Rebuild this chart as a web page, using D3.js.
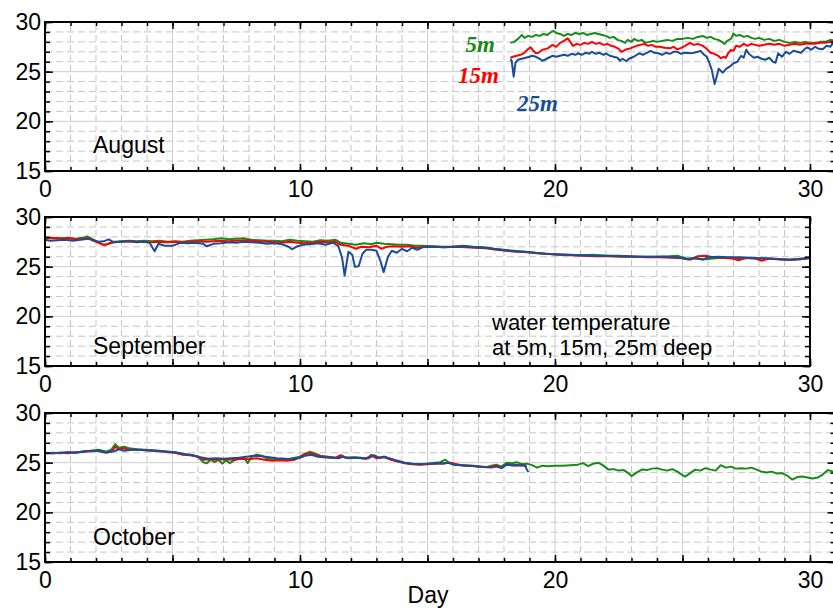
<!DOCTYPE html>
<html>
<head>
<meta charset="utf-8">
<script src="https://cdn.jsdelivr.net/npm/d3@7"></script>
<style>
  body { margin: 0; overflow: hidden; background: #fff; }
  svg { display: block; font-family: "Liberation Sans", Arial, sans-serif; }
</style>
</head>
<body>
<svg id="chart" width="833" height="610"></svg>
<script>
// [day, temperature]
var aug5 = [[18.25,27.9],[18.4,28.0],[18.55,28.3],[18.7,28.7],[18.8,28.4],[18.95,28.6],[19.1,28.5],[19.25,28.7],[19.4,28.6],[19.55,28.8],[19.7,28.7],[19.85,29.0],[19.95,29.1],[20.05,28.9],[20.2,28.8],[20.35,28.6],[20.5,28.8],[20.65,28.7],[20.8,28.9],[20.95,28.8],[21.1,28.9],[21.25,28.7],[21.4,28.8],[21.55,28.9],[21.7,28.8],[21.85,28.7],[22.0,28.6],[22.15,28.4],[22.3,28.5],[22.45,28.2],[22.6,28.1],[22.75,27.9],[22.85,28.2],[23.0,28.0],[23.1,28.3],[23.25,28.1],[23.4,28.2],[23.55,27.9],[23.7,28.0],[23.85,28.1],[24.0,28.0],[24.2,28.1],[24.4,28.2],[24.6,28.1],[24.8,28.3],[25.0,28.3],[25.2,28.4],[25.4,28.3],[25.6,28.5],[25.8,28.6],[25.95,28.4],[26.1,28.5],[26.25,28.3],[26.4,28.2],[26.55,28.0],[26.65,27.8],[26.75,28.1],[26.9,28.3],[27.0,28.85],[27.1,28.6],[27.25,28.7],[27.4,28.5],[27.55,28.6],[27.7,28.4],[27.85,28.3],[28.0,28.4],[28.2,28.2],[28.4,28.3],[28.6,28.1],[28.8,28.2],[29.0,28.0],[29.2,27.9],[29.4,28.0],[29.6,27.9],[29.8,28.0],[30.0,27.9],[30.2,27.9],[30.4,28.0],[30.6,28.0],[30.8,28.2],[31.0,28.1]];
var aug15 = [[18.25,26.4],[18.35,26.5],[18.5,26.6],[18.65,26.7],[18.8,26.9],[18.95,27.3],[19.05,27.45],[19.15,27.1],[19.25,26.85],[19.35,26.9],[19.5,27.2],[19.6,27.25],[19.75,27.4],[19.9,27.7],[20.05,27.5],[20.2,27.9],[20.35,28.1],[20.5,28.35],[20.6,28.0],[20.7,27.6],[20.85,27.8],[21.0,27.7],[21.15,27.9],[21.3,27.8],[21.45,28.0],[21.6,27.8],[21.75,27.9],[21.9,27.7],[22.05,27.8],[22.2,27.6],[22.35,27.5],[22.5,27.3],[22.6,27.0],[22.75,27.2],[22.9,27.3],[23.05,27.45],[23.2,27.6],[23.35,27.7],[23.5,27.8],[23.65,27.6],[23.8,27.7],[23.95,27.5],[24.1,27.5],[24.3,27.4],[24.5,27.35],[24.65,27.5],[24.8,27.25],[24.95,27.4],[25.1,27.6],[25.3,27.9],[25.45,27.7],[25.6,27.8],[25.8,27.6],[25.95,27.3],[26.1,26.9],[26.25,26.8],[26.4,26.6],[26.5,26.35],[26.6,26.5],[26.7,26.4],[26.8,26.9],[26.9,27.2],[27.0,27.1],[27.1,27.6],[27.25,27.5],[27.4,27.8],[27.55,27.6],[27.7,27.8],[27.85,27.7],[28.0,27.6],[28.2,27.7],[28.4,27.8],[28.6,27.7],[28.8,27.8],[29.0,27.6],[29.2,27.7],[29.4,27.8],[29.6,27.7],[29.8,27.8],[30.0,27.8],[30.2,27.8],[30.4,27.9],[30.6,27.9],[30.8,28.0],[31.0,28.1]];
var aug25 = [[18.25,26.25],[18.3,26.1],[18.38,24.5],[18.45,25.9],[18.55,26.2],[18.7,26.3],[18.85,26.4],[19.0,26.5],[19.1,26.6],[19.25,26.5],[19.4,26.3],[19.5,26.1],[19.6,26.2],[19.75,26.4],[19.9,26.6],[20.05,26.5],[20.2,26.6],[20.35,26.7],[20.5,26.6],[20.65,26.8],[20.8,26.7],[20.9,26.85],[21.05,26.7],[21.2,26.9],[21.35,26.8],[21.45,27.0],[21.6,26.8],[21.75,26.9],[21.9,26.7],[22.0,26.85],[22.15,26.6],[22.3,26.5],[22.45,26.4],[22.55,26.1],[22.65,26.3],[22.8,26.05],[22.9,26.3],[23.0,26.4],[23.15,26.6],[23.3,26.85],[23.45,26.7],[23.6,26.9],[23.75,27.1],[23.9,26.9],[24.05,26.85],[24.2,26.7],[24.35,26.9],[24.5,26.8],[24.65,27.0],[24.8,27.0],[24.95,26.8],[25.1,26.9],[25.3,26.85],[25.45,26.9],[25.6,27.0],[25.7,27.1],[25.85,26.7],[25.95,26.5],[26.05,25.9],[26.15,25.15],[26.26,23.75],[26.35,24.6],[26.42,25.3],[26.5,25.1],[26.57,24.9],[26.65,25.1],[26.72,25.3],[26.85,25.5],[27.0,25.85],[27.15,26.0],[27.3,26.6],[27.4,26.4],[27.5,27.2],[27.6,26.8],[27.7,26.6],[27.8,26.4],[27.95,26.5],[28.1,26.3],[28.25,26.2],[28.4,26.4],[28.55,26.0],[28.65,25.9],[28.75,26.85],[28.9,26.5],[29.05,27.0],[29.2,26.8],[29.35,27.1],[29.5,27.0],[29.65,26.9],[29.8,27.3],[29.9,27.45],[30.05,27.2],[30.2,27.5],[30.35,27.3],[30.5,27.25],[30.65,27.6],[30.8,27.5],[30.9,27.9],[31.0,27.8]];

var sep5 = [[0,27.85],[0.3,27.9],[0.6,27.85],[0.9,27.9],[1.2,27.8],[1.5,27.9],[1.65,28.05],[1.8,27.85],[2.0,27.6],[2.2,27.3],[2.35,27.15],[2.5,27.35],[2.7,27.5],[3.0,27.55],[3.3,27.6],[3.6,27.55],[3.9,27.6],[4.2,27.55],[4.5,27.6],[4.8,27.5],[5.1,27.55],[5.4,27.5],[5.7,27.6],[6.0,27.65],[6.3,27.7],[6.6,27.75],[6.9,27.85],[7.2,27.75],[7.5,27.8],[7.8,27.85],[8.1,27.7],[8.4,27.65],[8.7,27.6],[9.0,27.6],[9.3,27.55],[9.6,27.7],[9.9,27.6],[10.2,27.55],[10.5,27.5],[10.8,27.65],[11.1,27.6],[11.4,27.7],[11.6,27.4],[11.9,27.3],[12.2,27.2],[12.5,27.35],[12.8,27.25],[13.0,27.4],[13.3,27.3],[13.6,27.25],[13.9,27.2],[14.2,27.2],[14.5,27.1],[14.8,27.1],[15.2,27.05],[15.6,27.0],[16.0,27.0],[16.4,27.1],[16.8,27.0],[17.2,26.95],[17.6,26.8],[18.0,26.7],[18.4,26.6],[18.8,26.5],[19.2,26.4],[19.6,26.3],[20.0,26.25],[20.5,26.2],[21.0,26.15],[21.5,26.2],[22.0,26.1],[22.5,26.1],[23.0,26.05],[23.5,26.0],[24.0,26.0],[24.5,26.05],[24.8,26.1],[25.1,25.85],[25.5,25.8],[25.9,25.75],[26.3,25.85],[26.8,25.9],[27.3,25.85],[27.8,25.85],[28.3,25.8],[28.8,25.75],[29.2,25.7],[29.6,25.8],[30.0,25.9]];
var sep15 = [[0,27.9],[0.3,27.85],[0.6,27.8],[0.9,27.85],[1.2,27.75],[1.5,27.8],[1.7,27.9],[1.9,27.6],[2.1,27.4],[2.3,27.2],[2.5,27.3],[2.7,27.45],[3.0,27.5],[3.3,27.55],[3.6,27.5],[3.9,27.5],[4.2,27.45],[4.5,27.5],[4.8,27.45],[5.1,27.5],[5.4,27.45],[5.7,27.5],[6.0,27.55],[6.3,27.5],[6.6,27.55],[6.9,27.6],[7.2,27.55],[7.5,27.6],[7.8,27.65],[8.1,27.6],[8.4,27.55],[8.7,27.5],[9.0,27.45],[9.3,27.4],[9.6,27.5],[9.9,27.4],[10.2,27.35],[10.5,27.4],[10.8,27.5],[11.1,27.45],[11.4,27.5],[11.6,27.2],[11.9,27.1],[12.2,26.8],[12.4,27.0],[12.7,26.95],[13.0,27.1],[13.2,26.8],[13.4,27.0],[13.7,27.05],[14.0,27.0],[14.3,27.05],[14.6,26.9],[14.9,27.0],[15.3,27.0],[15.7,26.95],[16.1,27.0],[16.5,26.95],[16.9,26.9],[17.3,26.85],[17.7,26.7],[18.1,26.6],[18.5,26.5],[18.9,26.45],[19.3,26.35],[19.7,26.3],[20.1,26.2],[20.6,26.15],[21.1,26.1],[21.6,26.05],[22.1,26.05],[22.6,26.0],[23.1,26.0],[23.6,25.95],[24.1,25.95],[24.6,25.9],[25.0,25.85],[25.3,25.7],[25.6,26.05],[25.9,26.1],[26.2,25.95],[26.6,25.9],[27.0,25.8],[27.2,25.65],[27.5,25.9],[27.9,25.8],[28.1,25.6],[28.4,25.8],[28.8,25.75],[29.2,25.7],[29.6,25.75],[30.0,25.85]];
var sep25 = [[0,27.7],[0.2,27.6],[0.5,27.65],[0.8,27.7],[1.1,27.6],[1.4,27.7],[1.7,27.8],[1.9,27.65],[2.1,27.5],[2.3,27.55],[2.5,27.75],[2.7,27.45],[3.0,27.5],[3.3,27.55],[3.6,27.45],[3.9,27.5],[4.1,27.4],[4.3,26.55],[4.45,27.3],[4.7,27.1],[5.0,27.1],[5.3,27.4],[5.6,27.35],[5.9,27.4],[6.2,27.3],[6.35,27.05],[6.6,27.3],[6.9,27.35],[7.2,27.45],[7.5,27.4],[7.8,27.5],[8.1,27.45],[8.4,27.4],[8.7,27.3],[9.0,27.35],[9.3,27.25],[9.55,27.0],[9.7,26.75],[9.85,27.0],[10.1,27.2],[10.4,27.25],[10.7,27.35],[11.0,27.2],[11.3,27.4],[11.5,27.1],[11.65,25.9],[11.75,24.1],[11.9,26.5],[12.05,26.2],[12.15,25.0],[12.3,25.05],[12.45,26.3],[12.6,26.7],[12.8,26.7],[13.0,26.6],[13.15,25.6],[13.28,24.45],[13.45,26.0],[13.6,26.6],[13.8,26.4],[14.0,26.8],[14.2,26.55],[14.4,26.9],[14.6,26.7],[14.8,26.95],[15.2,27.0],[15.6,26.95],[16.0,27.0],[16.4,27.05],[16.8,26.95],[17.2,26.9],[17.6,26.8],[18.0,26.65],[18.4,26.55],[18.8,26.5],[19.2,26.4],[19.6,26.3],[20.0,26.25],[20.5,26.2],[21.0,26.15],[21.5,26.1],[22.0,26.1],[22.5,26.05],[23.0,26.0],[23.5,26.0],[24.0,26.0],[24.5,26.0],[24.9,25.9],[25.2,25.75],[25.5,25.9],[25.8,25.7],[26.0,25.95],[26.4,26.0],[26.8,25.95],[27.2,25.95],[27.6,25.9],[28.0,25.85],[28.4,25.85],[28.8,25.75],[29.2,25.7],[29.6,25.75],[30.0,25.9]];

var oct5 = [[0,25.95],[0.3,26.0],[0.6,25.95],[0.9,26.05],[1.2,26.0],[1.5,26.15],[1.8,26.2],[2.1,26.3],[2.4,26.1],[2.6,26.3],[2.75,26.85],[2.9,26.5],[3.1,26.6],[3.3,26.45],[3.6,26.35],[3.9,26.3],[4.2,26.25],[4.5,26.2],[4.8,26.1],[5.1,26.05],[5.4,25.85],[5.7,25.8],[6.0,25.6],[6.2,25.05],[6.35,24.95],[6.5,25.3],[6.65,25.05],[6.8,25.3],[6.95,24.9],[7.1,25.25],[7.25,24.95],[7.4,25.2],[7.6,25.4],[7.8,25.5],[7.95,24.95],[8.1,25.6],[8.3,25.8],[8.5,25.7],[8.7,25.4],[8.9,25.35],[9.1,25.3],[9.3,25.4],[9.5,25.35],[9.8,25.5],[10.0,25.6],[10.2,25.9],[10.4,26.1],[10.6,25.9],[10.8,25.7],[11.1,25.6],[11.4,25.5],[11.6,25.7],[11.8,25.5],[12.1,25.55],[12.4,25.5],[12.6,25.4],[12.8,25.8],[13.0,25.45],[13.3,25.6],[13.5,25.4],[13.8,25.2],[14.1,25.0],[14.4,24.9],[14.7,24.85],[15.0,24.9],[15.3,25.0],[15.5,25.05],[15.7,25.3],[15.85,25.0],[16.1,24.85],[16.4,24.75],[16.7,24.7],[17.0,24.6],[17.3,24.55],[17.5,24.7],[17.7,24.8],[17.9,24.6],[18.1,25.0],[18.3,24.95],[18.5,25.05],[18.7,24.85],[18.9,24.9],[19.1,24.75],[19.3,24.5],[19.5,24.7],[19.7,24.65],[20.0,24.7],[20.3,24.7],[20.6,24.75],[20.9,24.8],[21.1,24.95],[21.3,24.65],[21.5,24.9],[21.7,25.0],[21.9,24.7],[22.1,24.3],[22.3,24.35],[22.5,24.2],[22.7,24.25],[22.9,23.9],[23.0,23.65],[23.2,24.0],[23.4,24.3],[23.6,24.25],[23.8,24.4],[24.0,24.45],[24.2,24.3],[24.4,24.2],[24.6,24.35],[24.8,24.1],[25.0,23.75],[25.1,23.6],[25.3,23.95],[25.5,24.3],[25.7,24.2],[25.9,24.45],[26.1,24.3],[26.3,24.2],[26.5,24.75],[26.7,24.5],[26.9,24.6],[27.1,24.4],[27.3,24.45],[27.5,24.4],[27.7,24.5],[27.9,24.3],[28.1,24.1],[28.3,24.0],[28.5,24.1],[28.7,23.9],[28.9,23.95],[29.1,23.7],[29.3,23.3],[29.5,23.55],[29.7,23.6],[29.9,23.5],[30.1,23.4],[30.3,23.5],[30.5,23.8],[30.7,24.25],[30.9,24.1],[31.0,24.1]];
var oct15 = [[0,25.95],[0.3,25.95],[0.6,26.0],[0.9,25.95],[1.2,26.05],[1.5,26.1],[1.8,26.2],[2.1,26.15],[2.4,26.0],[2.6,26.1],[2.75,26.6],[2.9,26.35],[3.1,26.45],[3.3,26.3],[3.6,26.3],[3.9,26.25],[4.2,26.2],[4.5,26.15],[4.8,26.05],[5.1,26.0],[5.4,25.8],[5.7,25.75],[6.0,25.6],[6.2,25.3],[6.5,25.35],[6.8,25.3],[7.1,25.35],[7.4,25.3],[7.7,25.4],[8.0,25.35],[8.3,25.45],[8.6,25.3],[8.9,25.2],[9.2,25.25],[9.5,25.2],[9.8,25.3],[10.0,25.55],[10.2,25.85],[10.4,25.95],[10.6,25.8],[10.8,25.65],[11.1,25.55],[11.4,25.5],[11.6,25.75],[11.8,25.5],[12.1,25.5],[12.4,25.45],[12.6,25.4],[12.8,25.7],[13.0,25.45],[13.3,25.55],[13.5,25.35],[13.8,25.15],[14.1,24.95],[14.4,24.85],[14.7,24.8],[15.0,24.85],[15.3,24.9],[15.6,24.95],[15.9,25.0],[16.2,24.8],[16.5,24.7],[16.8,24.7],[17.1,24.6],[17.4,24.55],[17.7,24.7],[17.9,24.5],[18.1,24.8],[18.4,24.7],[18.7,24.75],[18.9,24.6]];
var oct25 = [[0,26.0],[0.3,25.95],[0.6,26.0],[0.9,26.05],[1.2,26.0],[1.5,26.1],[1.8,26.15],[2.1,26.2],[2.4,26.05],[2.7,26.15],[2.9,26.35],[3.1,26.2],[3.4,26.3],[3.7,26.3],[4.0,26.25],[4.3,26.2],[4.6,26.15],[4.9,26.1],[5.2,26.0],[5.5,25.85],[5.8,25.75],[6.1,25.55],[6.4,25.4],[6.7,25.45],[7.0,25.4],[7.3,25.45],[7.6,25.5],[7.9,25.6],[8.2,25.7],[8.5,25.65],[8.8,25.55],[9.1,25.45],[9.4,25.4],[9.7,25.35],[10.0,25.5],[10.2,25.7],[10.45,25.8],[10.7,25.6],[10.9,25.55],[11.2,25.5],[11.5,25.45],[11.7,25.6],[11.9,25.45],[12.2,25.5],[12.5,25.45],[12.7,25.45],[12.9,25.75],[13.1,25.5],[13.3,25.6],[13.5,25.45],[13.8,25.2],[14.1,25.0],[14.4,24.9],[14.7,24.85],[15.0,24.9],[15.3,24.95],[15.6,24.9],[15.8,25.0],[16.0,24.8],[16.3,24.75],[16.6,24.7],[16.9,24.65],[17.2,24.6],[17.5,24.5],[17.7,24.6],[17.9,24.45],[18.1,24.8],[18.3,24.75],[18.5,24.8],[18.7,24.7],[18.8,24.8],[18.9,24.3],[18.95,24.05]];

var months = ["August", "September", "October"];
var dayMax = [31, 30, 31];
var depths = ["5m", "15m", "25m"];
var colors = ["#178a17", "#ff0000", "#1a4d96"];
var yTickLabels = [15, 20, 25, 30];
var xTickLabels = [0, 10, 20, 30];
var noteLines = ["water temperature", "at 5m, 15m, 25m deep"];

var svg = d3.select("#chart");
var left = 45, pxPerDay = 25.5, plotH = 149;
var panelTop = [22, 217, 413];
var monthBase = [153, 354, 545];

function styleAxis(sel) {
  sel.attr("font-size", 23).attr("font-family", null);
  sel.select(".domain").remove();
  sel.selectAll("line").attr("stroke-width", 1.5);
  sel.selectAll("text").attr("fill", "#000");
}

function drawPanel(i, series) {
  var top = panelTop[i];
  var x = d3.scaleLinear().domain([0, dayMax[i]]).range([left, left + dayMax[i] * pxPerDay]);
  var y = d3.scaleLinear().domain([15, 30]).range([top + plotH, top]);
  var g = svg.append("g");

  // grid: dashed every unit, solid every 5
  var days = d3.range(1, dayMax[i]);
  var degs = d3.range(16, 30);
  g.selectAll(".vg").data(days).enter().append("line")
    .attr("x1", d => x(d)).attr("x2", d => x(d))
    .attr("y1", y(15)).attr("y2", y(30))
    .attr("stroke", d => d % 5 ? "#c6c6c6" : "#cdcdcd")
    .attr("stroke-dasharray", d => d % 5 ? "6,4" : null);
  g.selectAll(".hg").data(degs).enter().append("line")
    .attr("x1", x(0)).attr("x2", x(dayMax[i]))
    .attr("y1", d => y(d)).attr("y2", d => y(d))
    .attr("stroke", d => d % 5 ? "#c6c6c6" : "#cdcdcd")
    .attr("stroke-dasharray", d => d % 5 ? "7,4" : null);

  // series
  var line = d3.line().x(d => x(d[0])).y(d => y(d[1]));
  series.forEach(function(s, k) {
    g.append("path").datum(s).attr("d", line)
      .attr("fill", "none").attr("stroke", colors[k])
      .attr("stroke-width", 2).attr("stroke-linejoin", "round");
  });

  // ticks on all four sides, pointing inward
  var xAll = d3.range(0, dayMax[i] + 1);
  var xMaj = xAll.filter(d => d % 5 === 0);
  var yAll = d3.range(15, 31);
  var yMaj = yAll.filter(d => d % 5 === 0);

  g.append("g").attr("transform", "translate(0," + y(15) + ")")
    .call(d3.axisBottom(x).tickValues(xAll).tickSize(-4).tickFormat("")).call(styleAxis);
  g.append("g").attr("transform", "translate(0," + y(15) + ")")
    .call(d3.axisBottom(x).tickValues(xMaj).tickSize(-7).tickPadding(10)
      .tickFormat(d => xTickLabels.indexOf(d) >= 0 ? d : "")).call(styleAxis);
  g.append("g").attr("transform", "translate(0," + y(30) + ")")
    .call(d3.axisTop(x).tickValues(xAll).tickSize(-4).tickFormat("")).call(styleAxis);
  g.append("g").attr("transform", "translate(0," + y(30) + ")")
    .call(d3.axisTop(x).tickValues(xMaj).tickSize(-7).tickFormat("")).call(styleAxis);

  g.append("g").attr("transform", "translate(" + x(0) + ",0)")
    .call(d3.axisLeft(y).tickValues(yAll).tickSize(-5).tickFormat("")).call(styleAxis);
  g.append("g").attr("transform", "translate(" + x(0) + ",0)")
    .call(d3.axisLeft(y).tickValues(yTickLabels).tickSize(-8).tickPadding(4)).call(styleAxis);
  g.append("g").attr("transform", "translate(" + x(dayMax[i]) + ",0)")
    .call(d3.axisRight(y).tickValues(yAll).tickSize(-5).tickFormat("")).call(styleAxis);
  g.append("g").attr("transform", "translate(" + x(dayMax[i]) + ",0)")
    .call(d3.axisRight(y).tickValues(yMaj).tickSize(-8).tickFormat("")).call(styleAxis);

  g.append("rect")
    .attr("x", x(0)).attr("y", y(30))
    .attr("width", x(dayMax[i]) - x(0)).attr("height", y(15) - y(30))
    .attr("fill", "none").attr("stroke", "#000").attr("stroke-width", 2);

  g.append("text").attr("x", 93).attr("y", monthBase[i])
    .attr("font-size", 23).text(months[i]);
}

drawPanel(0, [aug5, aug15, aug25]);
drawPanel(1, [sep5, sep15, sep25]);
drawPanel(2, [oct5, oct15, oct25]);

// depth labels in the August panel
var legend = [
  { x: 495, y: 51.5, anchor: "end" },
  { x: 499, y: 83, anchor: "end" },
  { x: 517, y: 110.5, anchor: "start" }
];
svg.selectAll(".depth").data(depths).enter().append("text")
  .attr("x", (d, k) => legend[k].x).attr("y", (d, k) => legend[k].y)
  .attr("text-anchor", (d, k) => legend[k].anchor)
  .attr("font-family", "'Liberation Serif', 'Times New Roman', serif")
  .attr("font-weight", "bold").attr("font-style", "italic")
  .attr("font-size", 23).attr("fill", (d, k) => colors[k])
  .text(d => d);

// note in the September panel
svg.selectAll(".note").data(noteLines).enter().append("text")
  .attr("x", 492).attr("y", (d, k) => 330 + k * 25)
  .attr("font-size", 22).text(d => d);

svg.append("text").attr("x", 428).attr("y", 603).attr("text-anchor", "middle")
  .attr("font-size", 23).text("Day");
</script>
</body>
</html>
